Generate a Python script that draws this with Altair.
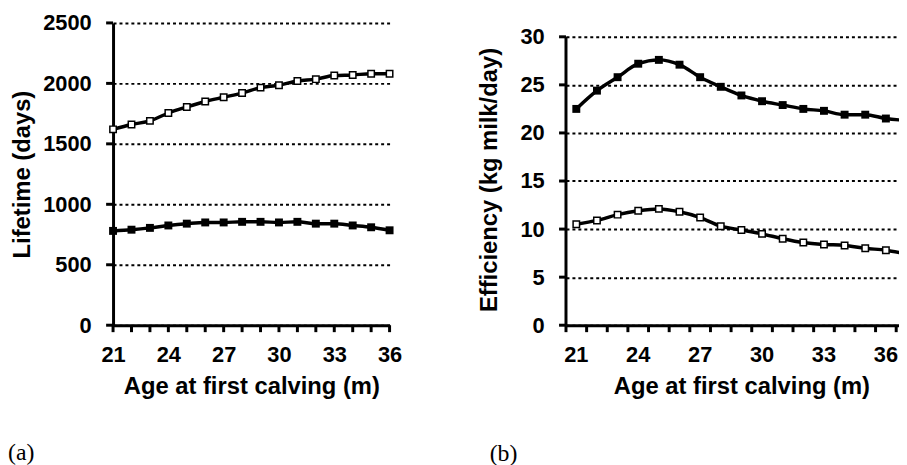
import altair as alt
import pandas as pd

# ---- data ----
ages_a = list(range(21, 37))
life_open = [1620, 1660, 1690, 1755, 1805, 1850, 1885, 1920, 1965, 1985, 2020, 2035, 2065, 2070, 2080, 2080]
life_filled = [780, 790, 805, 825, 840, 850, 850, 855, 855, 850, 855, 840, 840, 825, 810, 785]

ages_b = list(range(21, 38))
eff_filled = [22.5, 24.4, 25.8, 27.2, 27.6, 27.1, 25.8, 24.8, 23.9, 23.3, 22.9, 22.5, 22.3, 21.9, 21.9, 21.5, 21.3]
eff_open = [10.5, 10.9, 11.5, 11.9, 12.1, 11.8, 11.2, 10.3, 9.9, 9.5, 9.0, 8.6, 8.4, 8.3, 8.0, 7.8, 7.4]

yticks_a = [0, 500, 1000, 1500, 2000, 2500]
yticks_b = [0, 5, 10, 15, 20, 25, 30]
xlabels = [21, 24, 27, 30, 33, 36]
panel_labels = ["(a)", "(b)"]

FONT = "Liberation Sans"
H = 305
WA = 279
WB = 354
TICK = 6
OPEN_SIZE = 42
FILL_SIZE = 64
TICK_COLOR = "black"

df_a = pd.DataFrame({
    "age": ages_a * 2,
    "value": life_open + life_filled,
    "series": ["open"] * len(ages_a) + ["filled"] * len(ages_a),
})
df_b = pd.DataFrame({
    "age": ages_b * 2,
    "value": eff_filled + eff_open,
    "series": ["filled"] * len(ages_b) + ["open"] * len(ages_b),
})

label_expr = "indexof([" + ",".join(str(v) for v in xlabels) + "], +datum.value) >= 0 ? datum.label : ''"
grid_kw = dict(grid=True, gridColor="black", gridDash=[3, 3], gridWidth=2, gridOpacity=1)


def tick_rules_x(df, xenc):
    return alt.Chart(df).mark_rule(color=TICK_COLOR, strokeWidth=3).encode(
        x=xenc, y=alt.value(H), y2=alt.value(H + TICK + 1))


def tick_rules_y(df, yenc):
    return alt.Chart(df).mark_rule(color=TICK_COLOR, strokeWidth=3).encode(
        y=yenc, x=alt.value(-TICK - 1), x2=alt.value(0))


# ---------- panel (a) ----------
xa = alt.X("age:Q", scale=alt.Scale(domain=[ages_a[0], ages_a[-1]], nice=False, zero=False),
           axis=alt.Axis(values=ages_a, labelExpr=label_expr, grid=False,
                         title="Age at first calving (m)"))
ya = alt.Y("value:Q", scale=alt.Scale(domain=[yticks_a[0], yticks_a[-1]], nice=False),
           axis=alt.Axis(values=yticks_a, format="d", title="Lifetime (days)", titlePadding=8, **grid_kw))

base_a = alt.Chart(df_a)
line_a = base_a.mark_line(color="black", strokeWidth=3.5, interpolate="monotone").encode(
    x=xa, y=ya, detail="series:N")
pts_a_open = base_a.transform_filter("datum.series == 'open'").mark_point(
    shape="square", filled=True, fill="white", stroke="black", strokeWidth=1.5, size=OPEN_SIZE, opacity=1
).encode(x=xa, y=ya)
pts_a_fill = base_a.transform_filter("datum.series == 'filled'").mark_point(
    shape="square", filled=True, color="black", size=FILL_SIZE, opacity=1
).encode(x=xa, y=ya)
xt_a = tick_rules_x(pd.DataFrame({"age": ages_a}), xa)
yt_a = tick_rules_y(pd.DataFrame({"value": yticks_a}), ya)
lab_a = alt.Chart(pd.DataFrame({"lab": [panel_labels[0]]})).mark_text(
    font="Liberation Serif", fontSize=24, align="left", baseline="middle", color="black"
).encode(text="lab:N", x=alt.value(-106), y=alt.value(H + 129))

panel_a = alt.layer(line_a, pts_a_open, pts_a_fill, xt_a, yt_a, lab_a).properties(width=WA, height=H)

# ---------- panel (b) ----------
ymax_b = yticks_b[-1] * 305.0 / 291.0
xb_scale = alt.Scale(type="band", paddingInner=0, paddingOuter=0)
xb_axis = alt.Axis(labelExpr=label_expr, labelAngle=0, grid=False, title="Age at first calving (m)")
xb = alt.X("age:O", bandPosition=0.5, scale=xb_scale, axis=xb_axis)
xb_edge = alt.X("age:O", bandPosition=0, scale=xb_scale, axis=xb_axis)
yb_axis = alt.Axis(values=yticks_b, domain=False, title="Efficiency (kg milk/day)", titleY=158,
                   titlePadding=19, **grid_kw)
yb = alt.Y("value:Q", scale=alt.Scale(domain=[0, ymax_b], nice=False), axis=yb_axis,
           title="Efficiency (kg milk/day)")

base_b = alt.Chart(df_b)
line_b = base_b.mark_line(color="black", strokeWidth=3.5, interpolate="monotone").encode(
    x=xb, y=yb, detail="series:N")
pts_b_open = base_b.transform_filter("datum.series == 'open'").mark_point(
    shape="square", filled=True, fill="white", stroke="black", strokeWidth=1.5, size=OPEN_SIZE, opacity=1
).encode(x=xb, y=yb)
pts_b_fill = base_b.transform_filter("datum.series == 'filled'").mark_point(
    shape="square", filled=True, color="black", size=FILL_SIZE, opacity=1
).encode(x=xb, y=yb)
axis_line_b = alt.Chart(pd.DataFrame({"value": [yticks_b[0]], "value2": [yticks_b[-1]]})).mark_rule(
    color="black", strokeWidth=3
).encode(x=alt.value(0), y=yb, y2="value2:Q")
xt_b = tick_rules_x(pd.DataFrame({"age": ages_b}), xb_edge)
yt_b = tick_rules_y(pd.DataFrame({"value": yticks_b}), yb)
lab_b = alt.Chart(pd.DataFrame({"lab": [panel_labels[1]]})).mark_text(
    font="Liberation Serif", fontSize=24, align="left", baseline="middle", color="black"
).encode(text="lab:N", x=alt.value(-77), y=alt.value(H + 130))

panel_b = alt.layer(line_b, pts_b_open, pts_b_fill, axis_line_b, xt_b, yt_b, lab_b).properties(
    width=WB, height=H)

chart = alt.hconcat(panel_a, panel_b, spacing=75).properties(
    padding={"left": 0, "top": 2, "right": -18, "bottom": 0}
).configure_view(stroke=None).configure_axis(
    labelFont=FONT, labelFontSize=22, labelFontWeight="bold", labelColor="black",
    titleFont=FONT, titleFontSize=24, titleFontWeight="bold", titleColor="black",
    domain=True, domainColor="black", domainWidth=3, ticks=False,
    labelFlush=False, labelOverlap=False,
).configure_axisX(labelPadding=20, titlePadding=9).configure_axisY(labelPadding=22)

chart.save("out.html", embed_options={"renderer": "svg", "actions": False})
